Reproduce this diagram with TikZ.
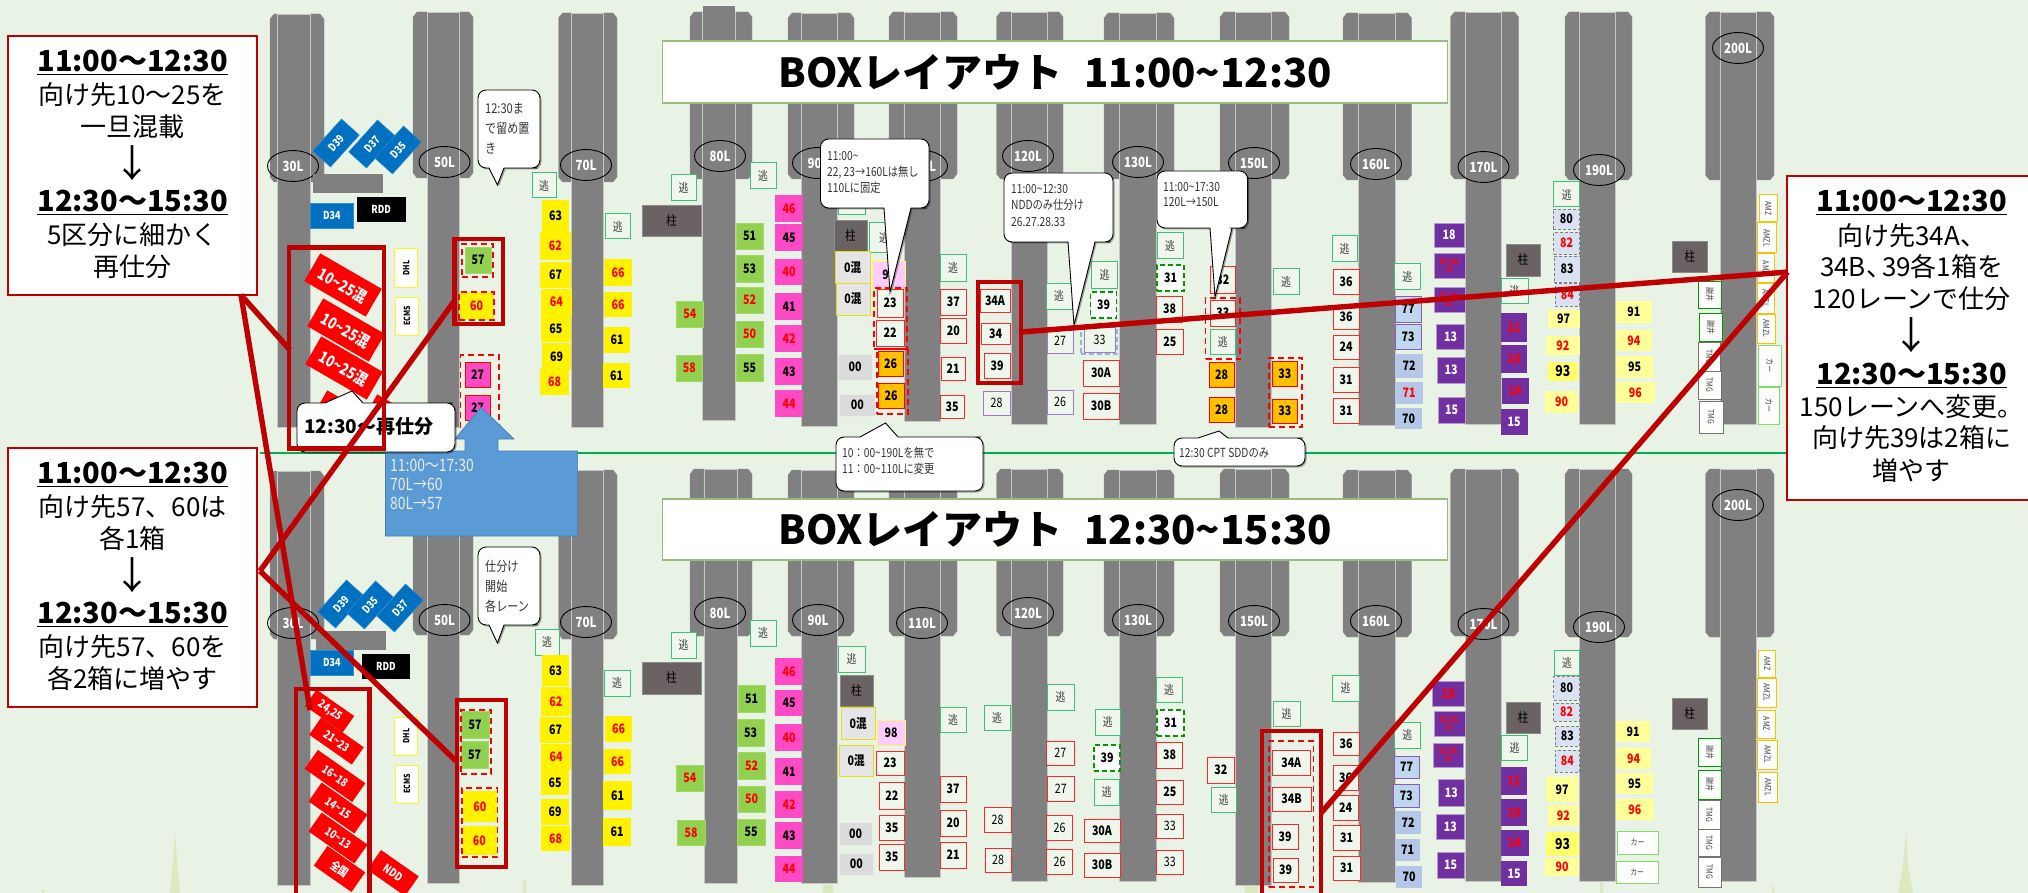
\documentclass[tikz,border=0pt]{standalone}
\usepackage{fontspec}
\usepackage{graphicx}
\usetikzlibrary{shadows,shapes.geometric}
\setmainfont{Noto Sans CJK JP}
\newfontfamily\jn[FakeStretch=0.82]{Noto Sans CJK JP}
\definecolor{bgc}{HTML}{E9F3E5}
\definecolor{lane}{HTML}{808080}
\definecolor{dred}{HTML}{C00000}
\definecolor{gb0}{HTML}{92D050}
\definecolor{pk0}{HTML}{FF4AC6}
\definecolor{or0}{HTML}{FFC000}
\definecolor{vi0}{HTML}{7030A0}
\definecolor{lb0}{HTML}{B4C7E7}
\definecolor{lb1}{HTML}{BDD7EE}
\definecolor{la0}{HTML}{D9E2F3}
\definecolor{ly0}{HTML}{FFFF99}
\definecolor{lp0}{HTML}{FFCCFF}
\definecolor{bl0}{HTML}{0070C0}
\definecolor{bl1}{HTML}{5B9BD5}
\definecolor{pi0}{HTML}{6B6363}
\definecolor{esc0}{HTML}{3FBF77}
\definecolor{boxbg}{HTML}{EFF6EB}
\definecolor{tg}{HTML}{A9D18E}
\definecolor{spire}{HTML}{DCE9C0}
\definecolor{gline}{HTML}{00B050}
\newcounter{bx}
\newcommand\B[6]{\stepcounter{bx}\node[#1,minimum width={(#4-#2)*1pt},minimum height={(#5-#3)*1pt}] (b\arabic{bx}) at ({(#2+#4)/2},{(#3+#5)/2}) {#6};}
\newcommand\RR[7]{\stepcounter{bx}\node[#1,rotate=#6,minimum width={#4*1pt},minimum height={#5*1pt}] (b\arabic{bx}) at (#2,#3) {#7};}
\newcommand\Lane[7]{%
 \fill[lane,draw=lane!85!white] (#3,#5+5) -- (#3+4,#5) -- (#1,#5) -- (#1,#6) -- (#3+4,#6) -- (#3,#6-5) -- cycle;
 \fill[lane,draw=lane!85!white] (#4,#5+5) -- (#4-4,#5) -- (#2,#5) -- (#2,#6) -- (#4-4,#6) -- (#4,#6-5) -- cycle;
 \fill[lane,draw=black!22,line width=.9pt] (#1,#5) rectangle (#2,#7);}
\newcommand\LL[3]{\stepcounter{bx}\node[lanelab] (b\arabic{bx}) at (#1,#2) {#3};}
\newcommand\Bub[8]{\draw[bubble] (#5,#4) [rounded corners=8pt] -- (#1,#4) -- (#1,#2) -- (#3,#2) -- (#3,#4) -- ({#3-10},#4) [sharp corners] -- (#6,#4) -- (#7,#8) -- cycle;}
\newcommand\VD[1]{\rotatebox{-90}{#1}}
\newcommand\VU[1]{\rotatebox{90}{#1}}
\newcommand\fs[1]{\fontsize{#1}{#1}\selectfont}
\newcommand\CT[1]{{\setbox0\hbox{#1}\rlap{\raisebox{-3.5pt}{\rule{\wd0}{1.6pt}}}\box0}}
\tikzset{
 x=1pt,y=-1pt,
 box/.style={inner sep=0pt,outer sep=0pt,align=center,text=black,font=\jn\fs{13}\bfseries},
 rt/.style={text=red},
 yb/.style={box,fill=yellow},
 gb/.style={box,fill=gb0,draw=gb0!85!white,line width=.5pt},
 pb/.style={box,fill=pk0},
 ob/.style={box,fill=or0,draw=red,line width=1pt},
 vb/.style={box,fill=vi0,draw=vi0!50!white,line width=.8pt,text=white},
 vbr/.style={vb,text=red},
 vs/.style={vb,text=red,font=\jn\fs{8}\bfseries},
 lbb/.style={box,fill=lb0},
 lbp/.style={box,fill=lb1,draw=vi0!80!white,line width=.8pt},
 lav/.style={box,fill=la0,draw=black!50,line width=.6pt,densely dashed},
 lyb/.style={box,fill=ly0},
 lpk/.style={box,fill=lp0,draw=yellow!60!white,line width=.6pt},
 rb/.style={box,fill=boxbg,draw=red!85!white,line width=1pt},
 pur/.style={box,fill=boxbg,draw=vi0!65!white,line width=1pt,font=\jn\fs{13}},
 esc/.style={box,fill=boxbg,draw=esc0,line width=1pt,text=black!75,font=\jn\fs{12}},
 mix/.style={box,fill=black!10,draw=yellow!90!black,line width=1pt},
 gry/.style={box,fill=black!14,draw=black!8,line width=1pt},
 pil/.style={box,fill=pi0,draw=black!45,line width=.8pt,font=\jn\fs{13}},
 wg/.style={box,fill=white,draw=green!60!black,line width=1.6pt,dash pattern=on 5pt off 3pt},
 dfr/.style={inner sep=0pt,outer sep=0pt,draw=red,line width=1.7pt,dash pattern=on 6pt off 4pt},
 dfb/.style={inner sep=0pt,outer sep=0pt,draw=bl1!70!white,line width=1.2pt,dash pattern=on 5pt off 3pt},
 frm/.style={inner sep=0pt,draw=dred,line width=4.5pt},
 blu/.style={box,fill=bl0,text=white,font=\jn\fs{11}\bfseries,draw=bl0!80!white,line width=.5pt},
 blk/.style={box,fill=black,text=white,font=\jn\fs{11}\bfseries},
 redr/.style={box,fill=red,text=white,font=\jn\fs{16}\bfseries},
 reds/.style={box,fill=red,text=white,font=\jn\fs{11.5}\bfseries},
 vy/.style={box,fill=white,draw=yellow!85!white,line width=1pt,font=\jn\fs{8.5}\bfseries},
 vo/.style={box,fill=white,draw=or0,line width=1pt,text=black!75,font=\jn\fs{8.5}},
 vg/.style={box,fill=white,draw=green!60!black,line width=1pt,text=black!75,font=\jn\fs{8.5}},
 vt/.style={box,fill=white,draw=black!55,line width=1pt,text=black!75,font=\jn\fs{8.5}},
 vl/.style={box,fill=white,draw=tg!75!green,line width=1pt,text=black!75,font=\jn\fs{8.5}},
 lanelab/.style={draw=black,line width=.9pt,ellipse,minimum width=51pt,minimum height=31pt,inner sep=0pt,text=white,font=\jn\fs{14}\bfseries},
 ttl/.style={inner sep=0pt,fill=white,draw=tg!90!black,line width=1.4pt,font=\fs{40}\bfseries,text=black},
 cbox/.style={inner sep=0pt,fill=white,draw=dred,line width=1.8pt},
 chead/.style={inner sep=0pt,font=\fs{29}\bfseries},
 cline/.style={inner sep=0pt,font=\fs{26}},
 carr/.style={inner sep=0pt,font=\fs{38}},
 bubble/.style={fill=white,draw=black,line width=.9pt,drop shadow={shadow xshift=1.5pt,shadow yshift=-1.5pt,fill=black,opacity=.35}},
 btxt/.style={inner sep=0pt,anchor=west,text=black!80,font=\jn\fs{12.5}},
 btxl/.style={btxt,font=\jn\fs{13.5}},
 blt/.style={inner sep=0pt,anchor=west,text=white!92!black,font=\jn\fs{17}},
 redl/.style={draw=dred,line width=5.4pt},
}
\begin{document}
\begin{tikzpicture}
\useasboundingbox (0,0) rectangle (2028,893);
\fill[bgc] (0,0) rectangle (2028,893);
% pale background spires
\fill[spire] (175,830) -- (177,860) -- (180,893) -- (170,893) -- (173,860) -- cycle;
\fill[spire] (1906,830) -- (1908,865) -- (1913,893) -- (1898,893) -- (1903,865) -- cycle;
\fill[spire] (523,880) rectangle (526,893);
\fill[spire] (823,885) rectangle (833,893);
\fill[spire] (1245,885) rectangle (1258,893);
\fill[spire] (1600,881) rectangle (1603,893);
\fill[spire] (1772,886) rectangle (1774,893);
\fill[spire] (42,889) rectangle (44,893);
% lanes, top row
\Lane{277}{310}{270}{324}{14}{182}{427}
\Lane{427}{459}{413}{473}{12}{178}{427}
\Lane{571.5}{603}{558.5}{617}{13}{182}{427}
\Lane{702.5}{735}{690}{752}{12}{179}{420}
\fill[lane] (702.5,6) rectangle (735,14);
\Lane{801}{837}{788}{854}{13}{179}{426}
\Lane{904}{940}{889}{957}{12}{179}{421}
\Lane{1011}{1047}{996.5}{1063}{12}{179}{424}
\Lane{1119}{1156}{1104}{1174}{13}{179}{424}
\Lane{1235}{1271}{1220}{1289}{12}{179}{427}
\Lane{1358}{1395}{1343}{1411.5}{13}{180}{425}
\Lane{1465}{1501}{1450.5}{1518.6}{12}{179}{424}
\Lane{1579.6}{1615.6}{1565}{1632}{12}{180}{424}
\Lane{1720}{1756}{1705.5}{1774}{12}{180}{424}
% lanes, bottom row
\Lane{277}{310}{270}{324}{471}{639}{885}
\Lane{427}{459}{413}{473}{469}{635}{883}
\Lane{571.5}{603}{558.5}{617}{470}{639}{885}
\Lane{704}{737}{690}{752}{469}{636}{883}
\Lane{801}{837}{788}{854}{470}{636}{883}
\Lane{904}{940}{889}{957}{469}{636}{877}
\Lane{1011}{1047}{996.5}{1063}{469}{636}{881}
\Lane{1119}{1156}{1104}{1174}{470}{636}{881}
\Lane{1235}{1271}{1220}{1289}{469}{636}{885}
\Lane{1358}{1395}{1343}{1411.5}{470}{637}{882}
\Lane{1465}{1501}{1450.5}{1518.6}{469}{636}{881}
\Lane{1579.6}{1615.6}{1565}{1632}{469}{637}{881}
\Lane{1720}{1756}{1705.5}{1774}{469}{637}{881}
% divider
\draw[gline,line width=2.4pt] (260,453) -- (1790,453);
% lane labels
\LL{293}{166}{30L}\LL{444.5}{162}{50L}\LL{586}{165}{70L}\LL{720}{156}{80L}\LL{818}{163}{90L}\LL{922}{166}{110L}\LL{1028}{156}{120L}\LL{1138}{162}{130L}\LL{1254}{163}{150L}\LL{1376}{164}{160L}\LL{1483.5}{167}{170L}\LL{1599}{170}{190L}\LL{1738}{48}{200L}
\LL{293}{623}{30L}\LL{444.5}{620}{50L}\LL{586}{622}{70L}\LL{720}{613}{80L}\LL{818}{620}{90L}\LL{922}{623}{110L}\LL{1028}{613}{120L}\LL{1138}{620}{130L}\LL{1254}{621}{150L}\LL{1376}{621}{160L}\LL{1483.5}{624}{170L}\LL{1599}{627}{190L}\LL{1738}{505}{200L}
% ---------- TOP ROW BOXES ----------
\RR{blu}{336}{143}{43}{24}{48}{D39}
\RR{blu}{372}{144}{43}{24}{48}{D37}
\RR{blu}{398}{150}{43}{24}{48}{D35}
\B{box,fill=lane}{313}{174}{383}{193}{}
\B{blu}{310.5}{203}{353.4}{228}{D34}
\B{blk}{357}{197}{405.5}{222}{RDD}
\B{vy}{394.6}{249}{417.6}{287}{\VU{DHL}}
\B{vy}{395.5}{297}{418.5}{335}{\VU{ECMS}}
\RR{redr}{350}{422}{71}{32}{-30}{}
\RR{redr}{400}{426}{71}{32}{-30}{}
\RR{redr}{343}{285}{71}{32}{-30}{10\textasciitilde25混}
\RR{redr}{346}{330}{71}{32}{-30}{10\textasciitilde25混}
\RR{redr}{344}{368}{71}{32}{-30}{10\textasciitilde25混}
\B{gb}{465}{247}{491}{273}{57}
\B{yb,rt}{459}{292}{494}{320}{60}
\B{dfr}{462}{244}{493}{277}{}
\B{dfr}{459}{292}{494}{320}{}
\B{pb,draw=red,line width=1pt}{465}{362}{490}{387}{27}
\B{pb,draw=red,line width=1pt}{465}{395}{490}{420}{27}
\B{dfr}{460.5}{355}{498.7}{432}{}
\B{esc}{532}{173}{556}{198}{逃}
\B{yb}{542}{200}{569.4}{232}{63}
\B{yb,rt}{540}{232}{570.7}{260}{62}
\B{yb}{540}{262}{571}{288}{67}
\B{yb,rt}{541}{289}{571.5}{315}{64}
\B{yb}{541}{315}{570.7}{342}{65}
\B{yb}{542}{343}{571}{370}{69}
\B{yb,rt}{540}{369}{569}{395}{68}
\B{esc}{605}{214}{630.5}{239}{逃}
\B{yb,rt}{604}{259}{632}{286}{66}
\B{yb,rt}{604}{292}{632}{317}{66}
\B{yb}{604}{327}{630}{353}{61}
\B{yb}{603}{363}{630}{388}{61}
\B{esc}{671}{175}{696}{201}{逃}
\B{pil}{642}{205}{701}{236}{柱}
\B{esc}{750}{163}{776}{189}{逃}
\B{gb}{736}{223}{763}{249}{51}
\B{gb}{736}{255}{763}{282}{53}
\B{gb,rt}{736}{287}{763}{313}{52}
\B{gb,rt}{736}{321}{763}{347}{50}
\B{gb}{736}{354}{763}{381}{55}
\B{gb,rt}{676.5}{301}{703}{327}{54}
\B{gb,rt}{676}{355}{702.5}{381}{58}
\B{pb,rt}{775}{195}{803}{222}{46}
\B{pb}{775}{224}{803}{251}{45}
\B{pb,rt}{775}{259}{803}{285}{40}
\B{pb}{775}{293}{803}{320}{41}
\B{pb,rt}{775}{325}{803}{352}{42}
\B{pb}{775}{358}{803}{385}{43}
\B{pb,rt}{775}{390}{803}{417}{44}
\B{esc}{838}{190}{865}{215}{逃}
\B{pil}{834}{220}{867}{252}{柱}
\B{esc}{869.5}{223}{898.5}{253}{逃}
\B{mix}{835.6}{252}{870}{283}{0混}
\B{mix}{836}{283}{870}{315}{0混}
\B{lpk}{872.5}{261}{905}{288}{98}
\B{rb}{877}{289}{903}{317}{23}
\B{rb}{876}{320}{904}{346}{22}
\B{dfr}{874}{288}{907}{349}{}
\B{ob}{878}{351}{903}{376}{26}
\B{ob}{878}{383}{904}{408}{26}
\B{dfr}{877}{349}{908}{414}{}
\B{gry}{838}{354}{872}{380}{00}
\B{gry}{839.5}{394}{875}{416}{00}
\B{esc}{940}{255}{966}{281}{逃}
\B{rb}{940.5}{289}{966}{315}{37}
\B{rb}{940.5}{318}{966}{343}{20}
\B{rb}{941}{357}{965}{380}{21}
\B{rb}{940}{395}{964}{418}{35}
\B{rb}{980}{289}{1010}{312}{34A}
\B{rb}{981}{323}{1010}{344}{34}
\B{rb}{984}{353}{1010}{378}{39}
\B{pur}{983}{391}{1010}{415}{28}
\B{esc}{1046}{283}{1072}{309}{逃}
\B{pur}{1047}{328}{1073}{353}{27}
\B{pur}{1047}{390}{1073}{414}{26}
\B{esc}{1091.5}{262}{1117.5}{288}{逃}
\B{wg}{1090.6}{292}{1116.6}{318}{39}
\B{dfb}{1081}{327}{1117}{354}{}
\B{pur}{1084}{327}{1115}{352}{33}
\B{rb}{1083}{360}{1119}{386}{30A}
\B{rb}{1083}{393}{1119}{419}{30B}
\B{esc}{1157}{233}{1183}{259}{逃}
\B{wg}{1157}{265}{1184}{291}{31}
\B{rb}{1156.5}{296}{1182.5}{322}{38}
\B{rb}{1156.5}{329}{1183}{354}{25}
\B{rb}{1210}{267}{1235.5}{293}{32}
\B{rb}{1210}{300}{1235.5}{326}{33}
\B{esc}{1210}{329}{1235.5}{354}{逃}
\B{dfr}{1205.5}{298}{1240}{359}{}
\B{ob}{1209}{362}{1234}{387}{28}
\B{ob}{1209}{397}{1234}{422}{28}
\B{ob}{1272}{361}{1297.5}{386}{33}
\B{ob}{1272}{399}{1297.5}{423}{33}
\B{dfr}{1269}{358}{1302}{427}{}
\B{esc}{1273}{269}{1299}{294}{逃}
\B{esc}{1332}{236}{1357}{262}{逃}
\B{rb}{1333}{270}{1359}{294}{36}
\B{rb}{1333}{305}{1359}{329}{36}
\B{rb}{1333}{335}{1359}{359}{24}
\B{rb}{1333}{367}{1359}{392}{31}
\B{rb}{1333}{398}{1359}{423}{31}
\B{esc}{1394.4}{264}{1420}{289}{逃}
\B{lbp}{1395}{296}{1421}{322}{77}
\B{lbp}{1395}{324}{1421}{349}{73}
\B{lbb}{1395}{354}{1423}{378}{72}
\B{lbb,rt}{1395}{382}{1423}{404}{71}
\B{lbb}{1395}{408}{1422}{429}{70}
\B{vb}{1434}{223}{1464}{247}{18}
\B{vs}{1434}{253}{1465}{278}{12.16.\\17}
\B{vs}{1434}{287}{1465}{312}{12.16.\\17}
\B{vb}{1436.5}{324}{1464.6}{349}{13}
\B{vb}{1437}{357}{1465}{383}{13}
\B{vb}{1438}{397}{1465}{423}{15}
\B{pil}{1506}{244}{1540}{276}{柱}
\B{esc}{1501}{278}{1528}{303}{逃}
\B{vbr,draw=none}{1501}{313}{1527}{342}{11}
\B{vbr,draw=none}{1501}{345}{1527}{373}{10}
\B{vbr,draw=none}{1501.5}{378}{1528.5}{404}{14}
\B{vb,draw=none}{1500.6}{409}{1527.6}{435}{15}
\B{esc}{1553.7}{182}{1579.6}{207}{逃}
\B{lav}{1553}{209}{1579.6}{229}{80}
\B{lav,rt}{1553.7}{232}{1579.6}{254}{82}
\B{lav}{1554}{256}{1580}{282}{83}
\B{lav,rt}{1555}{283}{1579.6}{306}{84}
\B{lyb}{1547.5}{310}{1579.6}{328}{97}
\B{lyb,rt}{1546}{336}{1579.6}{355}{92}
\B{box,fill=ly0!70!yellow,font=\jn\fs{15}\bfseries}{1547.5}{362}{1578}{381}{93}
\B{lyb,rt}{1545}{391}{1578}{413}{90}
\B{lyb}{1616}{301}{1651.5}{323}{91}
\B{lyb,rt}{1616}{330}{1651.5}{351}{94}
\B{lyb}{1616}{356}{1653}{378}{95}
\B{lyb,rt}{1616}{382}{1654.6}{403}{96}
\B{pil}{1672.6}{241}{1707}{272}{柱}
\B{vg}{1698.5}{281}{1721}{308}{\VD{謝井}}
\B{vg}{1699.5}{313}{1722}{341}{\VD{謝井}}
\B{vt}{1698}{342}{1720.4}{371}{\VD{TMG}}
\B{vt}{1698}{371}{1721}{399}{\VD{TMG}}
\B{vt}{1699}{401}{1723}{433}{\VD{TMG}}
\B{vo}{1759.5}{195}{1777}{222}{\VD{AMZ}}
\B{vo}{1757}{223}{1776.6}{253}{\VD{AMZL}}
\B{vo}{1757}{254}{1774.5}{282}{\VD{AMZ}}
\B{vo}{1757}{283}{1774.5}{313}{\VD{AMZL}}
\B{vo}{1757}{314}{1775.3}{343}{\VD{AMZL}}
\B{vl}{1758.6}{345}{1781}{386}{\VD{カー}}
\B{vl}{1758.6}{387}{1779.8}{424}{\VD{カー}}
% ---------- BOTTOM ROW BOXES ----------
\RR{blu}{341}{604}{43}{24}{48}{D39}
\RR{blu}{370}{605}{43}{24}{48}{D35}
\RR{blu}{400}{608}{43}{24}{48}{D37}
\B{box,fill=lane}{316}{631}{386}{650}{}
\B{blu}{310.5}{650}{353.4}{675}{D34}
\B{blk}{362}{654}{410}{679}{RDD}
\B{vy}{394.6}{717}{417.6}{755}{\VU{DHL}}
\B{vy}{395.5}{765}{418.5}{803}{\VU{ECMS}}
\RR{reds}{329.6}{711}{46}{20}{-35}{24,25}
\RR{reds}{336.5}{741}{52}{21}{-35}{21\textasciitilde23}
\RR{reds}{335}{776}{58}{23}{-35}{16\textasciitilde18}
\RR{reds}{338}{808}{56}{23}{-35}{14\textasciitilde15}
\RR{reds}{338}{838}{56}{23}{-35}{10\textasciitilde13}
\RR{reds}{339.5}{869}{46}{24}{-35}{全国}
\RR{reds}{393}{873}{46}{24}{-35}{NDD}
\B{gb}{461}{711}{489}{738}{57}
\B{gb}{461}{741}{488}{768}{57}
\B{dfr}{461}{710}{491}{774}{}
\B{yb,rt}{463}{791}{496.5}{822}{60}
\B{yb,rt}{462}{826}{496.5}{855}{60}
\B{dfr}{462}{788}{497.5}{857}{}
\B{esc}{535}{629}{559}{655}{逃}
\B{yb}{542}{655}{569.4}{686}{63}
\B{yb,rt}{541}{687}{570.7}{716}{62}
\B{yb}{540}{717}{571}{743}{67}
\B{yb,rt}{541}{744}{571}{770}{64}
\B{yb}{541}{770}{569}{795}{65}
\B{yb}{541}{799}{569}{825}{69}
\B{yb,rt}{541}{826}{570.3}{851}{68}
\B{esc}{604}{670}{630}{696}{逃}
\B{yb,rt}{605}{716}{632}{742}{66}
\B{yb,rt}{604}{749}{631}{774}{66}
\B{yb}{603}{781}{632}{810}{61}
\B{yb}{603}{818}{631}{846}{61}
\B{esc}{671}{632}{696}{658}{逃}
\B{pil}{642}{662}{701}{694}{柱}
\B{esc}{750}{620}{776}{646}{逃}
\B{gb}{738}{685}{765}{712}{51}
\B{gb}{737}{719}{764}{746}{53}
\B{gb,rt}{738}{752}{765}{779}{52}
\B{gb,rt}{738}{786}{765}{812}{50}
\B{gb}{737}{819}{765}{845}{55}
\B{gb,rt}{676.5}{765}{703}{791}{54}
\B{gb,rt}{677}{820}{705}{845}{58}
\B{pb,rt}{775}{658}{803}{685}{46}
\B{pb}{775}{690}{803}{716}{45}
\B{pb,rt}{775}{724}{803}{751}{40}
\B{pb}{775}{758}{803}{785}{41}
\B{pb,rt}{775}{791}{803}{818}{42}
\B{pb}{775}{822}{803}{849}{43}
\B{pb,rt}{775}{856}{803}{882}{44}
\B{esc}{838}{646}{865}{672}{逃}
\B{pil}{840}{675}{873}{706}{柱}
\B{mix}{841}{707}{875.5}{739}{0混}
\B{mix}{839.5}{745}{873}{776}{0混}
\B{lpk}{877}{720}{905}{745}{98}
\B{rb}{876}{751}{904}{775}{23}
\B{rb}{879}{782}{904.6}{809}{22}
\B{rb}{879}{815}{904.6}{840}{35}
\B{rb}{879}{844}{904.6}{870}{35}
\B{gry}{839}{822}{872}{845}{00}
\B{gry}{839}{853}{873.5}{875}{00}
\B{esc}{940}{707}{966}{732}{逃}
\B{rb}{940}{776}{966}{802}{37}
\B{rb}{940}{810}{966}{836}{20}
\B{rb}{940}{842}{966}{868}{21}
\B{esc}{984}{705}{1010}{730}{逃}
\B{rb,font=\jn\fs{13}}{984}{807}{1011}{832}{28}
\B{rb,font=\jn\fs{13}}{985}{848}{1011}{872}{28}
\B{esc}{1047}{684}{1074}{710}{逃}
\B{rb,font=\jn\fs{13}}{1046.5}{741}{1074}{765}{27}
\B{rb,font=\jn\fs{13}}{1047}{776}{1074.5}{801}{27}
\B{rb,font=\jn\fs{13}}{1046.5}{815}{1072.5}{840}{26}
\B{rb,font=\jn\fs{13}}{1046.5}{849}{1072.5}{874}{26}
\B{esc}{1095}{709}{1120.5}{735}{逃}
\B{wg}{1094}{745}{1120}{771}{39}
\B{esc}{1094.5}{779}{1119}{805}{逃}
\B{rb}{1084}{819}{1120}{842}{30A}
\B{rb}{1084}{853}{1120}{877}{30B}
\B{esc}{1156}{677}{1182}{702}{逃}
\B{wg}{1157}{710}{1184}{736}{31}
\B{rb}{1156.5}{742}{1182.5}{768}{38}
\B{rb}{1156.5}{780}{1183}{804}{25}
\B{rb,font=\jn\fs{13}}{1156.5}{814}{1183}{838}{33}
\B{rb,font=\jn\fs{13}}{1156.5}{850}{1183}{874}{33}
\B{rb}{1207}{757}{1234.6}{783}{32}
\B{esc}{1211.6}{787}{1236}{812}{逃}
\B{esc}{1273}{701}{1300}{726}{逃}
\B{rb}{1272}{750}{1310.5}{775}{34A}
\B{rb}{1272}{787}{1311}{811}{34B}
\B{rb}{1272}{824}{1298}{849}{39}
\B{rb}{1273}{858}{1298}{882}{39}
\B{dfr}{1269}{741}{1313.5}{887}{}
\B{esc}{1332}{675}{1359}{701}{逃}
\B{rb}{1333}{732}{1359}{755}{36}
\B{rb}{1333}{765}{1358}{790}{36}
\B{rb}{1333}{795}{1358}{820}{24}
\B{rb}{1333}{825}{1360}{850}{31}
\B{rb}{1333}{856}{1360}{880}{31}
\B{esc}{1394.4}{722}{1420}{748}{逃}
\B{lbp}{1394.4}{756}{1419}{778}{77}
\B{lbp}{1393.5}{784}{1419.4}{807}{73}
\B{lbb}{1395}{811}{1421}{834}{72}
\B{lbb}{1395}{839}{1420}{861}{71}
\B{lbb}{1396}{866}{1422}{888}{70}
\B{vbr}{1432.6}{681}{1464}{706}{18}
\B{vs}{1434}{711}{1465}{736}{12.16.\\17}
\B{vs}{1433.5}{743}{1463.7}{767}{12.16.\\17}
\B{vb}{1438.7}{779}{1464}{806}{13}
\B{vb}{1436.5}{814}{1464}{839}{13}
\B{vb}{1437}{852}{1464}{878}{15}
\B{pil}{1506}{702}{1540}{733}{柱}
\B{esc}{1501}{735}{1527.8}{760}{逃}
\B{vbr,draw=none}{1501}{767}{1527}{795}{11}
\B{vbr,draw=none}{1501}{799}{1527}{826}{10}
\B{vbr,draw=none}{1501}{830}{1528.5}{856}{14}
\B{vb,draw=none}{1500.6}{861}{1527.4}{886}{15}
\B{esc}{1554.6}{650}{1579.6}{675}{逃}
\B{lav}{1553.7}{676}{1579.6}{700}{80}
\B{lav,rt}{1553.7}{703}{1579.6}{721}{82}
\B{lav}{1555}{726}{1579.6}{746}{83}
\B{lav,rt}{1555}{750}{1579.6}{772}{84}
\B{lyb}{1546}{777}{1578}{802}{97}
\B{lyb,rt}{1547.5}{805}{1579}{826}{92}
\B{box,fill=ly0!70!yellow,font=\jn\fs{15}\bfseries}{1546}{832}{1579}{856}{93}
\B{lyb,rt}{1545}{858}{1579}{876}{90}
\B{lyb}{1616}{721}{1650}{742}{91}
\B{lyb,rt}{1616}{748}{1651}{769}{94}
\B{lyb}{1616}{773}{1653}{794}{95}
\B{lyb,rt}{1615.6}{799}{1654}{820}{96}
\B{vl}{1617}{831}{1658}{854}{カー}
\B{vl}{1616.4}{861}{1658}{883}{カー}
\B{pil}{1672.6}{698}{1707}{729}{柱}
\B{vg}{1698.5}{738}{1721}{766}{\VD{謝井}}
\B{vg}{1698.5}{770}{1721}{799}{\VD{謝井}}
\B{vt}{1698}{800}{1720.4}{829}{\VD{TMG}}
\B{vt}{1698}{829}{1720.4}{856}{\VD{TMG}}
\B{vt}{1698}{857}{1721}{887}{\VD{TMG}}
\B{vo}{1758.6}{650}{1775.7}{677}{\VD{AMZ}}
\B{vo}{1757}{678}{1776.6}{707}{\VD{AMZL}}
\B{vo}{1757.8}{710}{1775.3}{738}{\VD{AMZ}}
\B{vo}{1757.8}{740}{1777}{769}{\VD{AMZL}}
\B{vo}{1758.6}{772}{1777.4}{802}{\VD{AMZL}}
% ---------- titles ----------
\node[ttl,minimum width=785pt,minimum height=62pt] (t1) at (1055,72) {BOXレイアウト\hspace{22pt}11:00\textasciitilde12:30};
\node[ttl,minimum width=785pt,minimum height=61pt] (t2) at (1055,529.5) {BOXレイアウト\hspace{22pt}12:30\textasciitilde15:30};
% ---------- speech bubbles ----------
\Bub{478}{90}{540}{168}{489}{504}{497.4}{185}
\node[btxl] (s1a) at (485,108) {12:30ま};
\node[btxl] (s1b) at (485,128) {で留め置};
\node[btxl] (s1c) at (485,148) {き};
\Bub{478}{547}{540}{625}{489}{504}{497.4}{643}
\node[btxl] (s2a) at (485,566) {仕分け};
\node[btxl] (s2b) at (485,586) {開始};
\node[btxl] (s2c) at (485,606) {各レーン};
\Bub{820.5}{139}{929}{208}{884}{911}{890}{292}
\node[btxt] (s3a) at (827,156) {11:00\textasciitilde};
\node[btxt] (s3b) at (827,172) {22, 23→160Lは無し};
\node[btxt] (s3c) at (827,188) {110Lに固定};
\Bub{1004}{173}{1113}{242}{1068}{1095}{1074}{325}
\node[btxt] (s4a) at (1011,189) {11:00\textasciitilde12:30};
\node[btxt] (s4b) at (1011,205) {NDDのみ仕分け};
\node[btxt] (s4c) at (1011,222) {26.27.28.33};
\Bub{1157}{171}{1247.6}{228}{1210}{1232}{1215}{297}
\node[btxt] (s5a) at (1163,187) {11:00\textasciitilde17:30};
\node[btxt] (s5b) at (1163,202) {120L→150L};
\Bub{836}{491}{983}{437}{860}{898}{885.5}{423}
\node[btxt] (s6a) at (842,453) {10：00\textasciitilde190Lを無で};
\node[btxt] (s6b) at (842,469) {11：00\textasciitilde110Lに変更};
\Bub{1174}{466}{1305}{438}{1198}{1228}{1219}{431}
\node[btxt] (s7a) at (1179,453) {12:30 CPT SDDのみ};
% blue up-arrow callout
\draw[fill=bl1,draw=bl1!80!black,line width=.6pt] (385.5,451) -- (465,451) -- (465,439) -- (455,439) -- (481,407) -- (514,439) -- (498,439) -- (498,451) -- (577.6,451) -- (577.6,536) -- (385.5,536) -- cycle;
\node[blt] (bl1) at (390,465) {11:00～17:30};
\node[blt] (bl2) at (390,484) {70L→60};
\node[blt] (bl3) at (390,503) {80L→57};
% re-sort bubble
\Bub{297}{452}{455}{403}{325}{363}{352}{391}
\node[inner sep=0pt,anchor=west,font=\fs{19}\bfseries] (s8) at (304,426) {12:30～再仕分};
% ---------- explanation boxes ----------
\node[cbox,minimum width=249pt,minimum height=259pt] (c1) at (132.5,165.5) {};
\node[chead] (c1a) at (132.7,63) {\CT{11:00～12:30}};
\node[cline] (c1b) at (132.7,95) {向け先10～25を};
\node[cline] (c1c) at (132.7,127) {一旦混載};
\node[carr]  (c1d) at (132.7,163) {↓};
\node[chead] (c1e) at (132.7,203) {\CT{12:30～15:30}};
\node[cline] (c1f) at (132.7,235) {5区分に細かく};
\node[cline] (c1g) at (132.7,267) {再仕分};
\node[cbox,minimum width=249pt,minimum height=259pt] (c2) at (132.5,577.5) {};
\node[chead] (c2a) at (132.7,475) {\CT{11:00～12:30}};
\node[cline] (c2b) at (132.7,507) {向け先57、60は};
\node[cline] (c2c) at (132.7,539) {各1箱};
\node[carr]  (c2d) at (132.7,575) {↓};
\node[chead] (c2e) at (132.7,615) {\CT{12:30～15:30}};
\node[cline] (c2f) at (132.7,647) {向け先57、60を};
\node[cline] (c2g) at (132.7,679) {各2箱に増やす};
\node[cbox,minimum width=254pt,minimum height=324pt] (c3) at (1914,338) {};
\node[chead] (c3a) at (1911.7,203) {\CT{11:00～12:30}};
\node[cline] (c3b) at (1911.7,236) {向け先34A、};
\node[cline] (c3c) at (1911.7,267) {34B、\kern-10pt 39各1箱を};
\node[cline] (c3d) at (1911.7,299) {120レーンで仕分};
\node[carr]  (c3e) at (1911.7,335) {↓};
\node[chead] (c3f) at (1911.7,376) {\CT{12:30～15:30}};
\node[cline] (c3g) at (1911.7,407) {150レーンへ変更。};
\node[cline] (c3h) at (1911.7,438) {向け先39は2箱に};
\node[cline] (c3i) at (1911.7,471) {増やす};
% ---------- highlight frames ----------
\node[frm,minimum width=95pt,minimum height=201pt] (r1) at (336.5,348) {};
\node[frm,minimum width=48.5pt,minimum height=85pt] (r2) at (478.7,281.5) {};
\node[frm,minimum width=43pt,minimum height=101pt] (r3) at (999.5,332.5) {};
\node[frm,minimum width=73.5pt,minimum height=210pt] (r4) at (332.7,794) {};
\node[frm,minimum width=49pt,minimum height=167pt] (r5) at (481.5,783.5) {};
\node[frm,minimum width=59pt,minimum height=170pt] (r6) at (1291.5,816) {};
% ---------- connectors ----------
\coordinate (p1) at (241,295);
\coordinate (p2) at (260,571);
\coordinate (p3) at (1787.6,272);
\coordinate (q1) at (290,350);
\coordinate (q2) at (310,710);
\coordinate (q3) at (455,300);
\coordinate (q4) at (456,761);
\coordinate (q5) at (1021,332);
\coordinate (q6) at (1321,813);
\draw[redl] (p1) -- (q1);
\draw[redl] (p1) -- (q2);
\draw[redl] (p2) -- (q3);
\draw[redl] (p2) -- (q4);
\draw[redl] (p3) -- (q5);
\draw[redl] (p3) -- (q6);
\end{tikzpicture}
\end{document}
